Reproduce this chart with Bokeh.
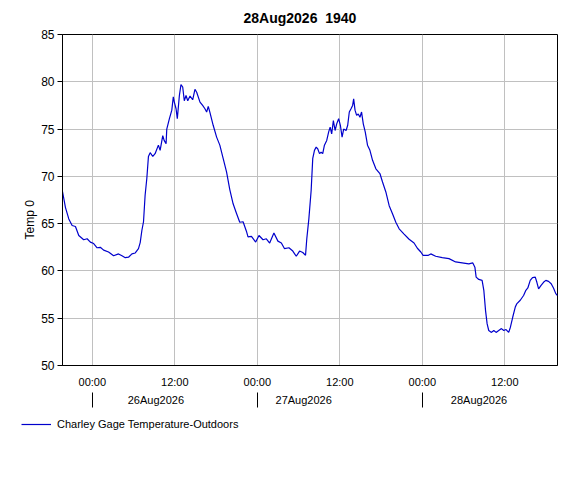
import pandas as pd
from bokeh.plotting import figure
from bokeh.layouts import column, row
from bokeh.models import (DatetimeAxis, FixedTicker, DatetimeTickFormatter, Title,
                          Legend, LegendItem, Range1d)
from bokeh.embed import file_html
from bokeh.resources import INLINE

# ---- data ----
month_prefix = "2026-08-"
times = [
    "25 19:40", "25 20:06", "25 20:35", "25 21:04", "25 21:33", "25 22:02", "25 22:45", "25 23:15", "25 23:43",
    "26 00:12", "26 00:42", "26 01:10", "26 01:39", "26 02:22", "26 03:06", "26 03:49", "26 04:19", "26 04:48",
    "26 05:16", "26 05:46", "26 06:15", "26 06:43", "26 06:58", "26 07:13", "26 07:27", "26 07:41", "26 07:56",
    "26 08:10", "26 08:25", "26 08:48", "26 09:08", "26 09:37", "26 09:52", "26 10:15", "26 10:27", "26 10:44",
    "26 10:50", "26 11:13", "26 11:34", "26 11:47", "26 11:56", "26 12:11", "26 12:22", "26 12:40", "26 12:54",
    "26 13:09", "26 13:23", "26 13:38", "26 13:53", "26 14:13", "26 14:36", "26 14:56", "26 15:11", "26 15:40",
    "26 16:03", "26 16:23", "26 16:38", "26 16:52", "26 17:06", "26 17:35", "26 18:05", "26 18:33", "26 19:02",
    "26 19:32", "26 20:00", "26 20:29", "26 20:58", "26 21:27", "26 21:56", "26 22:25", "26 22:39", "26 23:09",
    "26 23:46", "27 00:15", "27 00:50", "27 01:19", "27 01:48", "27 02:25", "27 03:00", "27 03:30", "27 03:58",
    "27 04:36", "27 05:10", "27 05:40", "27 06:09", "27 06:37", "27 07:01", "27 07:12", "27 07:30", "27 07:50",
    "27 08:04", "27 08:19", "27 08:34", "27 08:48", "27 09:03", "27 09:17", "27 09:31", "27 09:46", "27 10:06",
    "27 10:23", "27 10:36", "27 10:49", "27 11:04", "27 11:19", "27 11:33", "27 11:50", "27 12:05", "27 12:20",
    "27 12:34", "27 12:55", "27 13:09", "27 13:23", "27 13:38", "27 13:52", "27 14:01", "27 14:13", "27 14:27",
    "27 14:41", "27 14:56", "27 15:10", "27 15:25", "27 15:42", "27 16:02", "27 16:23", "27 16:46", "27 17:15",
    "27 17:50", "27 18:13", "27 18:42", "27 19:11", "27 19:40", "27 20:09", "27 20:38", "27 21:21", "27 22:05",
    "27 22:48", "27 23:17", "27 23:47", "28 00:07", "28 00:53", "28 01:14", "28 01:57", "28 02:54", "28 03:53",
    "28 04:51", "28 05:48", "28 06:46", "28 07:21", "28 07:39", "28 07:50", "28 08:13", "28 08:42", "28 08:57",
    "28 09:12", "28 09:26", "28 09:40", "28 10:04", "28 10:24", "28 10:44", "28 11:07", "28 11:31", "28 11:51",
    "28 12:11", "28 12:34", "28 12:49", "28 13:09", "28 13:32", "28 13:46", "28 14:15", "28 14:44", "28 15:04",
    "28 15:21", "28 15:42", "28 16:02", "28 16:26", "28 16:40", "28 16:55", "28 17:15", "28 17:38", "28 17:58",
    "28 18:22", "28 18:45", "28 19:05", "28 19:25", "28 19:40",
]
temps = [
    68.4, 66.7, 65.5, 64.8, 64.7, 63.75, 63.3, 63.4, 63.05,
    62.9, 62.45, 62.5, 62.2, 62.0, 61.6, 61.8, 61.6, 61.4,
    61.45, 61.8, 61.9, 62.35, 63.0, 64.3, 65.2, 68.0, 69.8,
    72.1, 72.5, 72.1, 72.4, 73.3, 72.75, 74.3, 73.8, 73.45,
    75.0, 76.1, 77.0, 78.4, 77.85, 77.15, 76.1, 78.55, 79.7,
    79.45, 78.0, 78.55, 78.0, 78.5, 78.1, 79.2, 78.9, 77.85,
    77.5, 77.15, 76.8, 77.4, 76.8, 75.4, 74.15, 73.3, 71.9,
    70.45, 68.6, 67.1, 66.1, 65.15, 65.2, 64.2, 63.6, 63.65,
    63.05, 63.75, 63.3, 63.4, 62.95, 64.0, 63.15, 62.95, 62.35,
    62.45, 62.1, 61.55, 62.1, 61.95, 61.65, 63.4, 65.5, 68.5,
    71.9, 72.75, 73.1, 72.9, 72.4, 72.55, 72.4, 73.3, 73.8,
    74.7, 75.2, 74.5, 75.9, 74.85, 75.55, 76.1, 75.4, 74.15,
    75.0, 74.85, 75.4, 76.8, 77.15, 77.5, 78.2, 77.0, 76.45,
    76.6, 76.25, 76.8, 75.55, 74.7, 73.3, 72.75, 71.7, 70.8,
    70.3, 69.4, 68.35, 66.9, 66.05, 65.15, 64.45, 63.9, 63.35,
    62.95, 62.4, 62.0, 61.65, 61.65, 61.8, 61.55, 61.4, 61.3,
    60.95, 60.85, 60.75, 60.85, 60.4, 59.35, 59.1, 59.0, 57.95,
    55.8, 54.4, 53.7, 53.5, 53.7, 53.5, 53.7, 53.9, 53.7,
    53.8, 53.5, 54.05, 55.1, 56.2, 56.55, 56.9, 57.4, 57.95,
    58.2, 59.0, 59.3, 59.35, 58.8, 58.1, 58.45, 58.8, 59.0,
    58.9, 58.65, 58.2, 57.6, 57.4,
]
x_start, x_end = "25 19:40", "28 19:40"
y_ticks = [50, 55, 60, 65, 70, 75, 80, 85]
x_tick_times = ["26 00:00", "26 12:00", "27 00:00", "27 12:00", "28 00:00", "28 12:00"]
day_sep_times = ["26 00:00", "27 00:00", "28 00:00"]
date_label_times = ["26 09:15", "27 06:45", "28 08:15"]   # shown as 26Aug2026 ...
series_name = "Charley Gage Temperature-Outdoors"
title_text = "28Aug2026\u00a0 1940"
y_label = "Temp 0"


def ms(s):
    return pd.Timestamp(month_prefix + s).value / 1e6


xs = [ms(t) for t in times]
FONT = "Liberation Sans"
LINE_COLOR = "#0000cc"

p = figure(width=576, height=410, x_axis_type="datetime", output_backend="svg",
           toolbar_location=None, x_range=Range1d(ms(x_start), ms(x_end)),
           y_range=Range1d(50, 85), min_border_left=62, min_border_right=19,
           min_border_top=34, min_border_bottom=45)
p.background_fill_color = "white"
p.border_fill_color = "white"
p.outline_line_color = "black"
p.outline_line_alpha = 1.0

p.title.text = title_text
p.title.align = "left"
p.title.offset = 181
p.title.standoff = 14
p.title.vertical_align = "top"
p.title.text_font = FONT
p.title.text_font_size = "14px"
p.title.text_font_style = "bold"
p.title.text_color = "black"

r = p.line(xs, temps, line_color=LINE_COLOR, line_width=1.2)

# main x axis
xa = p.xaxis[0]
xa.ticker = FixedTicker(ticks=[ms(t) for t in x_tick_times])
xa.formatter = DatetimeTickFormatter(hours="%H:%M", days="%H:%M", hourmin="%H:%M",
                                     minutes="%H:%M", months="%H:%M", context=None)
xa.major_tick_out = 0
xa.major_tick_in = 0
xa.minor_tick_out = 0
xa.minor_tick_in = 0
xa.axis_line_color = "black"
xa.major_label_standoff = 10
xa.major_label_text_font = FONT
xa.major_label_text_font_size = "11px"
xa.major_label_text_color = "black"

# date labels with day separators (as minor ticks)
xa2 = DatetimeAxis(ticker=FixedTicker(ticks=[ms(t) for t in date_label_times],
                                      minor_ticks=[ms(t) for t in day_sep_times]))
fmt = "%d%b%Y"
xa2.formatter = DatetimeTickFormatter(hours=fmt, days=fmt, hourmin=fmt, minutes=fmt,
                                      months=fmt, years=fmt, context=None)
xa2.axis_line_color = None
xa2.major_tick_in = 0
xa2.major_tick_out = 0
xa2.minor_tick_in = -2
xa2.minor_tick_out = 17
xa2.minor_tick_line_color = "black"
xa2.major_label_standoff = -14
xa2.major_label_text_font = FONT
xa2.major_label_text_font_size = "11px"
xa2.major_label_text_color = "black"
p.add_layout(xa2, "below")

# y axis
ya = p.yaxis[0]
ya.ticker = FixedTicker(ticks=y_ticks)
ya.major_tick_out = 5
ya.major_tick_in = 0
ya.minor_tick_out = 0
ya.minor_tick_in = 0
ya.axis_line_color = "black"
ya.major_label_standoff = 3
ya.major_label_text_font = FONT
ya.major_label_text_font_size = "12px"
ya.major_label_text_color = "black"

p.xgrid.ticker = FixedTicker(ticks=[ms(t) for t in x_tick_times])
p.ygrid.ticker = FixedTicker(ticks=y_ticks)
for g in (p.xgrid[0], p.ygrid[0]):
    g.grid_line_color = "#c0c0c0"
    g.grid_line_width = 1
    g.grid_line_alpha = 1.0

# y label as a title in the left panel
p.add_layout(Title(text=y_label, align="left", offset=126, standoff=4,
                   text_font=FONT, text_font_size="12px", text_font_style="normal",
                   text_color="black"), "left")

# legend strip below the chart (same series, drawn outside its visible range)
p2 = figure(width=576, height=70, output_backend="svg", toolbar_location=None,
            x_axis_location=None, y_axis_location=None,
            x_range=Range1d(0, 1), y_range=Range1d(0, 1),
            min_border_left=0, min_border_right=0, min_border_top=0, min_border_bottom=0)
p2.grid.visible = False
p2.outline_line_color = None
p2.background_fill_color = "white"
p2.border_fill_color = "white"
r2 = p2.line(xs, temps, line_color=LINE_COLOR, line_width=1.2)
legend = Legend(items=[LegendItem(label=series_name, renderers=[r2])],
                location=(21, 50), padding=0, margin=0, spacing=0,
                glyph_width=30, glyph_height=12, label_height=12, label_standoff=6,
                label_text_font=FONT, label_text_font_size="11px",
                label_text_color="black", border_line_color=None,
                background_fill_alpha=0)
p2.add_layout(legend, "center")

open("out.html", "w").write(file_html(column(p, row(p2), spacing=0), INLINE))
